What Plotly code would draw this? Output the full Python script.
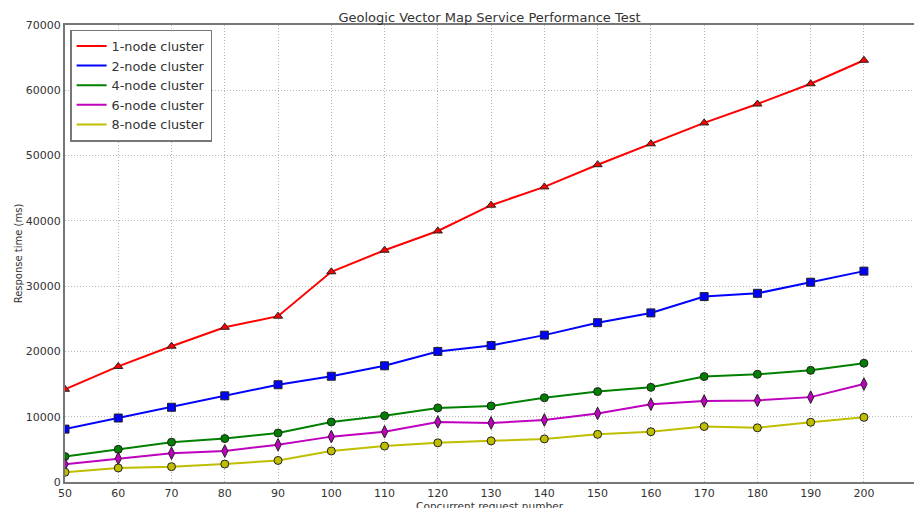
import plotly.graph_objects as go

# Concurrent request counts (x axis)
requests = [50, 60, 70, 80, 90, 100, 110, 120, 130, 140, 150, 160, 170, 180, 190, 200]

# Mean response times in ms for each cluster size
node1 = [14200, 17700, 20800, 23700, 25400, 32200, 35500, 38450, 42400, 45200,
         48600, 51800, 55000, 57900, 61000, 64600]
node2 = [8100, 9800, 11450, 13200, 14900, 16200, 17800, 20000, 20900, 22500,
         24400, 25900, 28400, 28900, 30600, 32300]
node4 = [3900, 5000, 6100, 6650, 7500, 9200, 10150, 11350, 11650, 12900,
         13850, 14500, 16150, 16500, 17100, 18200]
node6 = [2700, 3600, 4400, 4750, 5700, 6950, 7700, 9200, 9050, 9500,
         10500, 11900, 12400, 12500, 13000, 15000]
node8 = [1500, 2150, 2350, 2750, 3300, 4750, 5500, 6000, 6300, 6600,
         7300, 7700, 8500, 8300, 9150, 9900]

series_names = ["1-node cluster", "2-node cluster", "4-node cluster",
                "6-node cluster", "8-node cluster"]
series_values = [node1, node2, node4, node6, node8]
colors = ["#ff0000", "#0000ff", "#008000", "#bf00bf", "#bfbf00"]
symbols = ["triangle-up", "square", "circle", "diamond-tall", "circle"]
marker_sizes = [8, 8, 8, 9, 8]

y_ticks = [0, 10000, 20000, 30000, 40000, 50000, 60000, 70000]
x_ticks = list(range(50, 201, 10))

fig = go.Figure()

for name, vals, col, sym, ms in zip(series_names, series_values, colors, symbols, marker_sizes):
    fig.add_trace(go.Scatter(
        x=requests, y=vals, mode="lines+markers", name=name, showlegend=False,
        line=dict(color=col, width=2),
        marker=dict(symbol=sym, size=ms, color=col, line=dict(color="#222222", width=1)),
    ))

# Legend entries show only the line style
for name, col in zip(series_names, colors):
    fig.add_trace(go.Scatter(
        x=[None], y=[None], mode="lines", name=name,
        line=dict(color=col, width=2),
    ))

font_family = "DejaVu Sans, Liberation Sans, sans-serif"
grid = dict(showgrid=True, gridcolor="#b8b8b8", griddash="1px,2px", gridwidth=1)

fig.update_layout(
    width=914, height=508,
    margin=dict(l=65, r=0, t=25, b=26),
    paper_bgcolor="white", plot_bgcolor="white",
    font=dict(family=font_family, size=11, color="#333333"),
    title=dict(text="Geologic Vector Map Service Performance Test",
               x=0.5, xref="paper", y=0.966, yref="container",
               xanchor="center", yanchor="middle",
               font=dict(size=13, color="#333333")),
    legend=dict(x=0.006, y=0.99, xanchor="left", yanchor="top",
                bgcolor="white", bordercolor="#777777", borderwidth=1.5,
                font=dict(size=12.8, color="#333333"),
                itemwidth=30, tracegroupgap=0),
    xaxis=dict(range=[50, 209.4], tickvals=x_ticks, **grid,
               showline=True, linecolor="#777777", linewidth=2, mirror=True,
               ticks="", zeroline=False, tickfont=dict(size=11)),
    yaxis=dict(range=[0, 70000], tickvals=y_ticks, tickformat="d", **grid,
               showline=True, linecolor="#777777", linewidth=2,
               ticks="", zeroline=False, tickfont=dict(size=11),
               title=dict(text="Response time (ms)", font=dict(size=10), standoff=1)),
    annotations=[dict(text="Concurrent request number", xref="paper", yref="paper",
                      x=0.5, y=-0.036, xanchor="center", yanchor="top",
                      showarrow=False, font=dict(size=10.6, color="#333333"))],
)

fig.write_html("out.html")
